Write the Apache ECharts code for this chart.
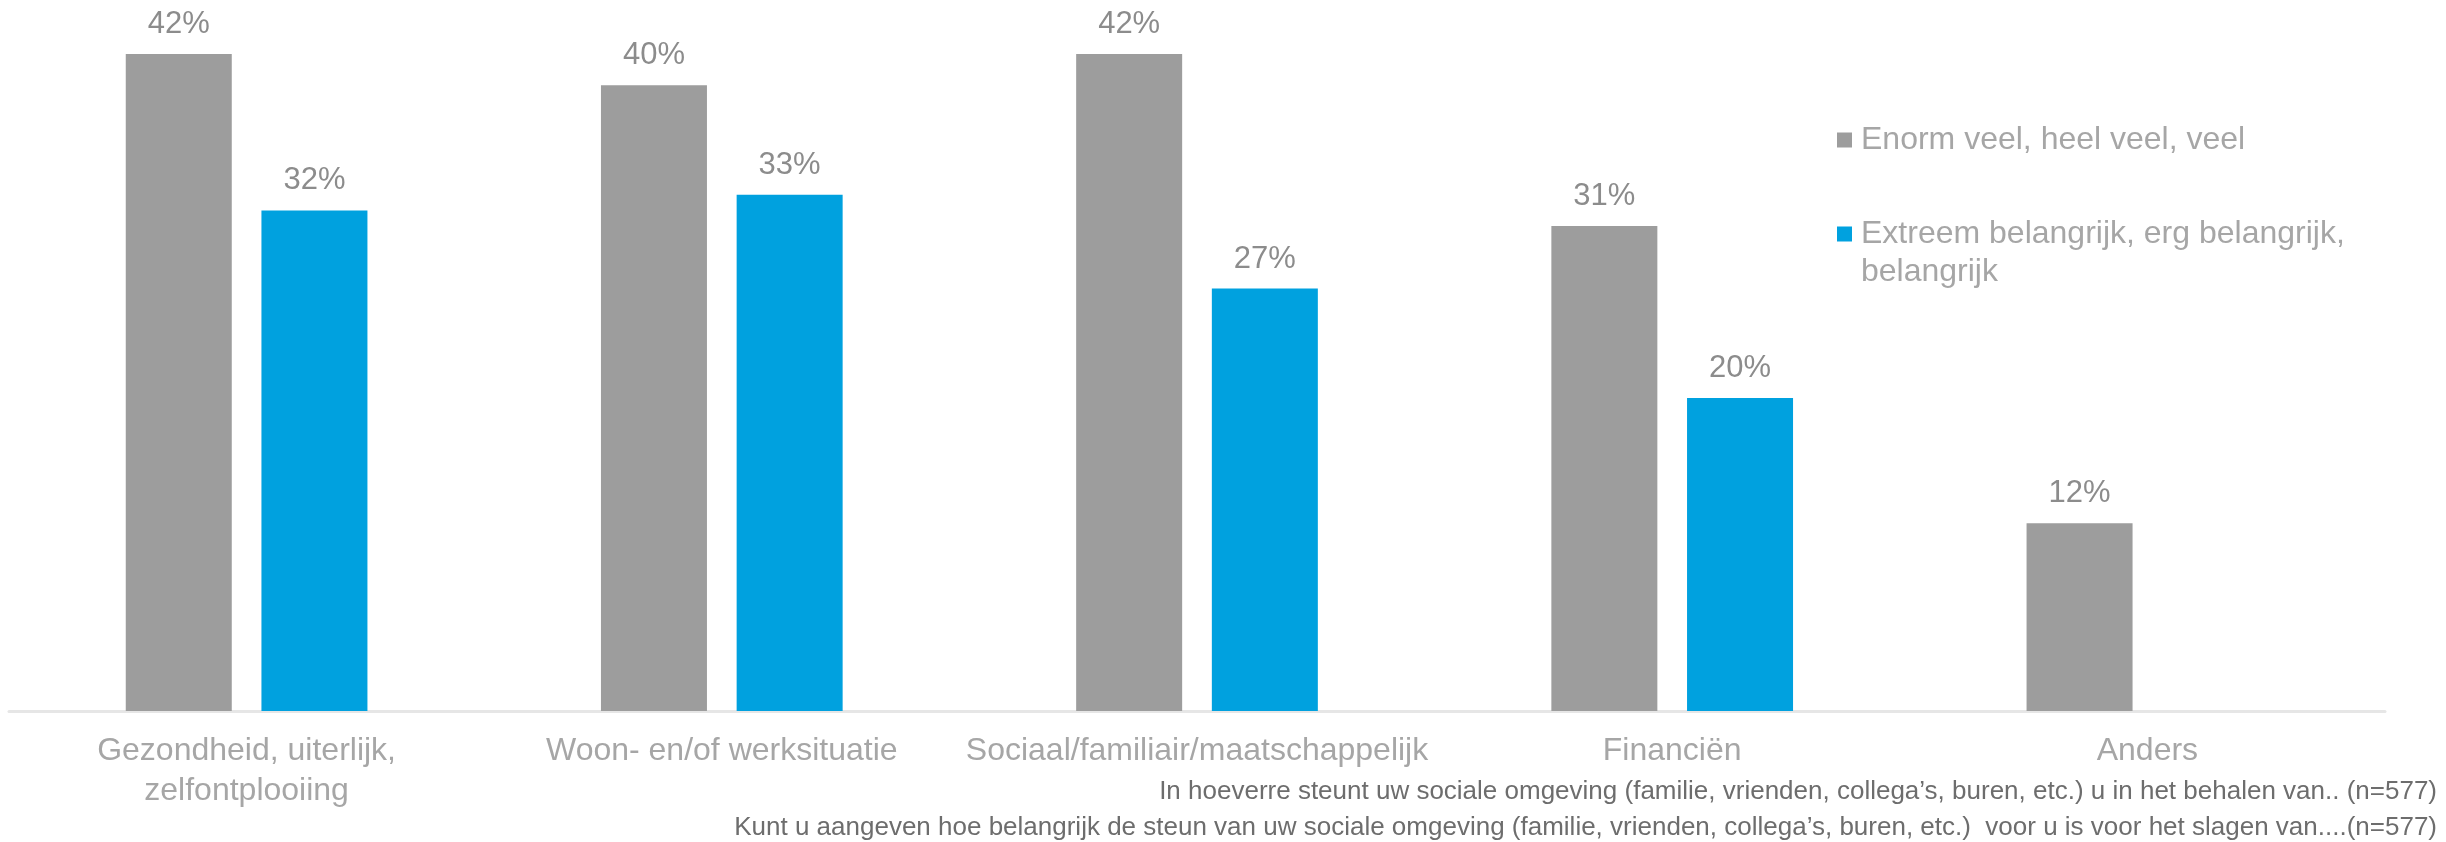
<!DOCTYPE html>
<html>
<head>
<meta charset="utf-8">
<script src="https://cdn.jsdelivr.net/npm/echarts@6/dist/echarts.min.js"></script>
<style>
  html, body { margin: 0; padding: 0; background: #fff; }
  #bar-charts { width: 2446px; height: 842px; }
</style>
</head>
<body>
<div id="bar-charts"></div>
<script>
var categories = ['Gezondheid, uiterlijk,\nzelfontplooiing', 'Woon- en/of werksituatie', 'Sociaal/familiair/maatschappelijk', 'Financiën', 'Anders'];
var seriesNames = ['Enorm veel, heel veel, veel', 'Extreem belangrijk, erg belangrijk, belangrijk'];
var steun = [42, 40, 42, 31, 12];
var belang = [32, 33, 27, 20, null];
var footnotes = [
  'In hoeverre steunt uw sociale omgeving (familie, vrienden, collega\u2019s, buren, etc.) u in het behalen van.. (n=577)',
  'Kunt u aangeven hoe belangrijk de steun van uw sociale omgeving (familie, vrienden, collega\u2019s, buren, etc.)  voor u is voor het slagen van....(n=577)'
];

barCharts();

function barCharts(){
	var myBar = echarts.init(document.getElementById('bar-charts'));
	var font = 'Liberation Sans, Arial, sans-serif';
	var option = {
		animation: false,
		textStyle: { fontFamily: font },
		grid: { left: 9, right: 61, top: 7, bottom: 131 },
		legend: {
			orient: 'vertical',
			left: 1832,
			top: 116,
			itemWidth: 15,
			itemHeight: 15,
			itemGap: 18,
			icon: 'rect',
			textStyle: { color: '#a6a6a6', fontSize: 32, lineHeight: 38, fontFamily: font, padding: [0, 0, 0, 4] },
			data: seriesNames,
			formatter: function (name) {
				// lege eerste regel zodat het blokje bij de eerste tekstregel staat
				return name === seriesNames[1] ? '\nExtreem belangrijk, erg belangrijk,\nbelangrijk' : name;
			}
		},
		xAxis: {
			type: 'category',
			data: categories,
			axisTick: { show: false },
			axisLine: { lineStyle: { color: '#e6e6e6', width: 3 } },
			axisLabel: { color: '#a6a6a6', fontSize: 32, lineHeight: 40, margin: 20, interval: 0, fontFamily: font }
		},
		yAxis: {
			type: 'value',
			min: 0,
			max: 45,
			show: false
		},
		series: [
			{
				name: seriesNames[0],
				type: 'bar',
				barWidth: 106,
				barGap: '28%',
				itemStyle: { color: '#9d9d9d' },
				label: { show: true, position: 'top', distance: 14, formatter: '{c}%', color: '#8c8c8c', fontSize: 31, fontFamily: font },
				data: steun
			},
			{
				name: seriesNames[1],
				type: 'bar',
				barWidth: 106,
				itemStyle: { color: '#00a1df' },
				label: { show: true, position: 'top', distance: 14, formatter: '{c}%', color: '#8c8c8c', fontSize: 31, fontFamily: font },
				data: belang
			}
		],
		graphic: [
			{
				type: 'text',
				x: 2437,
				y: 774,
				style: {
					text: footnotes.join('\n'),
					align: 'right',
					fill: '#6d6d6d',
					fontSize: 26,
					lineHeight: 36,
					fontFamily: font
				}
			}
		]
	};
	myBar.setOption(option);
}
</script>
</body>
</html>
